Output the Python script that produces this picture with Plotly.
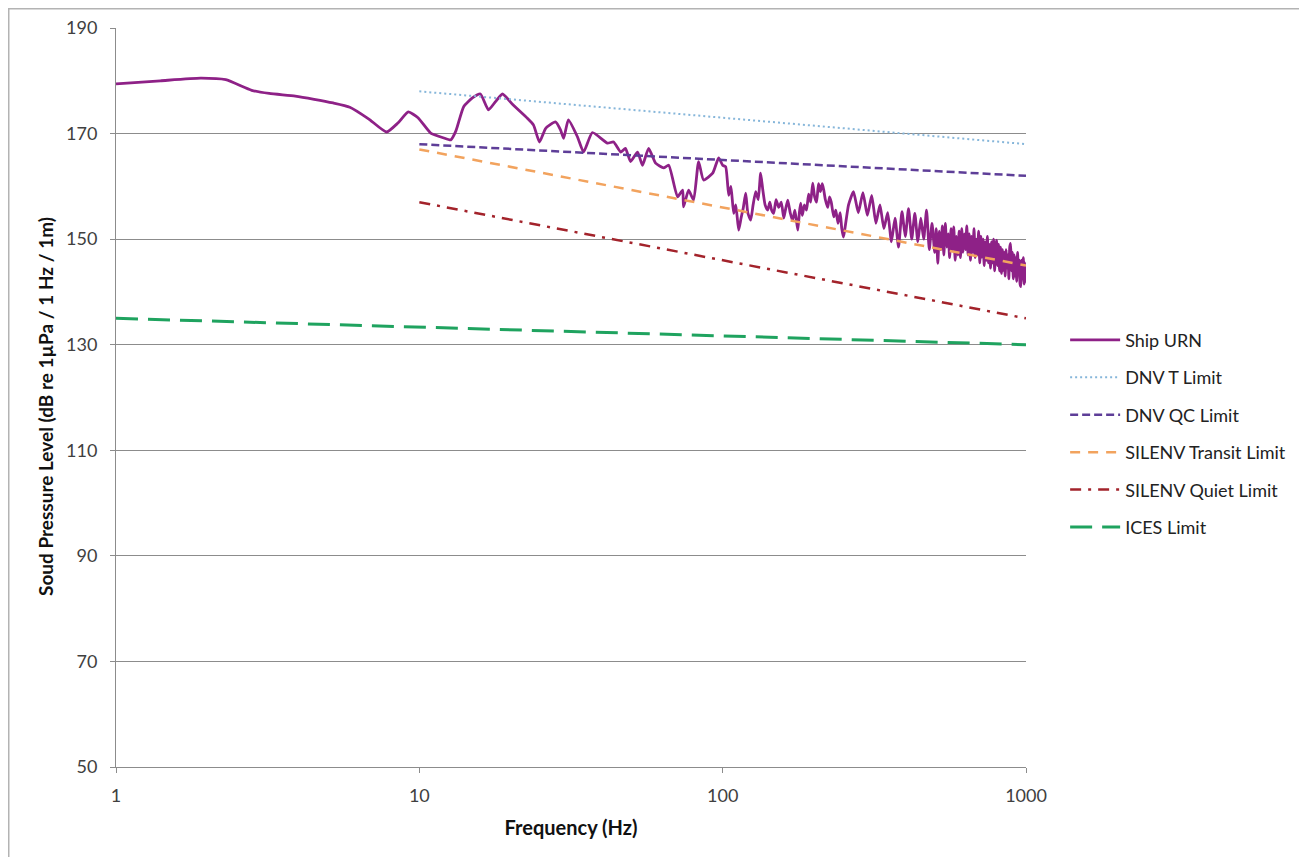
import plotly.graph_objects as go

# ---------------- data ----------------
ship_freq = [1, 1.4, 1.9, 2.3, 2.8, 3.2, 3.9, 4.5, 5.2, 5.9, 6.8, 7.8, 8.5, 9.2, 9.9,
             10.9, 12.0, 12.7, 13.2, 14.0, 15.0, 15.9, 16.9, 17.8, 18.8, 20.4, 22.7, 23.8, 24.9, 26.1,
             28.1, 29.2, 29.9, 31.0, 33.2, 34.8, 37.2, 41.7, 43.7, 46.1, 47.8, 49.7, 52.4, 54.4, 57.0,
             60.1, 63.9, 66.4, 71.0, 73.8, 74.3, 77.2, 80.2, 83.3, 86.5, 92.7, 97.0,
             100, 102.3, 104.7, 106.5, 108.7, 110.5, 112.9, 115, 117, 119.1, 121, 123.7, 126, 128.5, 131,
             133.4, 135.5, 138, 140.8, 143, 145, 147.3, 150, 153, 156, 159, 161, 163.9, 167, 170,
             173, 176.9, 179, 180.8, 183, 186, 189, 192, 195, 198.1, 201, 204, 207, 210, 213,
             215.4, 218, 222, 225, 228, 232.4, 236, 240, 244, 247,
             250, 260, 270, 280, 290, 300, 310, 320, 330, 340, 350, 360, 370, 380, 390,
             400, 410, 420, 430, 440, 450, 460, 470, 480, 490, 500,
             506, 512, 518, 524, 530, 536, 542, 548, 554, 560, 566, 572, 578, 584, 590,
             596, 602, 608, 614, 620, 626, 632, 638, 644, 650, 656, 662, 668, 674, 680,
             686, 692, 698, 704, 710, 716, 722, 728, 734, 740, 746, 752, 758, 764, 770,
             776, 782, 788, 794, 800, 806, 812, 818, 824, 830, 836, 842, 848, 854, 860,
             866, 872, 878, 884, 890, 896, 902, 908, 914, 920, 926, 932, 938, 944, 950,
             956, 962, 968, 974, 980, 986, 992, 998, 1000]
ship_spl = [179.4, 180.0, 180.5, 180.2, 178.2, 177.6, 177.1, 176.5, 175.8, 175.0, 172.8, 170.3, 172.0, 174.1, 173.0,
            170.1, 169.2, 168.8, 170.5, 175.1, 176.8, 177.5, 174.5, 176.0, 177.5, 175.4, 172.9, 171.6, 168.4, 171.0,
            172.2, 170.7, 169.1, 172.6, 169.4, 166.5, 170.2, 168.2, 168.4, 166.5, 167.2, 164.7, 166.5, 164.0, 167.2,
            164.4, 163.5, 164.0, 158.0, 159.3, 156.1, 159.3, 157.4, 164.7, 161.2, 162.5, 165.4,
            164.0, 163.7, 158.3, 160.0, 154.9, 156.5, 151.7, 154.0, 156.0, 158.7, 155.0, 153.6, 156.5, 159.0, 157.5,
            162.5, 159.5, 156.5, 155.5, 157.0, 155.5, 154.9, 157.5, 156.0, 157.0, 154.0, 155.5, 157.4, 155.0, 153.5,
            155.5, 151.7, 155.0, 156.8, 154.5, 156.5, 155.5, 158.5, 157.0, 160.6, 158.0, 157.0, 160.5, 159.0, 160.5,
            159.3, 157.5, 156.0, 158.0, 157.0, 154.2, 155.5, 153.0, 155.0, 152.0,
            150.4, 156.5, 159.0, 155.0, 158.8, 154.5, 158.3, 153.0, 156.5, 152.0, 155.0, 149.5, 154.0, 148.5, 155.2,
            150.5, 155.8, 150.0, 154.9, 149.5, 154.0, 150.0, 155.5, 148.0, 153.0, 147.5,
            152.0, 145.4, 151.5, 148.0, 152.5, 147.0, 153.0, 148.5, 151.0, 146.5, 152.0, 148.0, 152.3, 146.0, 150.5,
            147.0, 151.5, 146.5, 152.0, 147.5, 151.0, 148.0, 152.5, 147.0, 151.0, 146.0, 150.5, 147.5, 152.0, 146.5,
            150.0, 147.0, 151.5, 145.5, 150.5, 146.6, 150.0, 145.0, 149.5, 146.0, 150.5, 145.5, 149.0, 144.5, 149.5,
            145.5, 150.0, 144.0, 148.5, 149.8, 145.0, 149.0, 144.0, 148.5, 143.5, 148.0, 144.1, 147.5, 143.0, 148.0,
            144.5, 147.0, 142.5, 148.5, 149.2, 144.0, 147.5, 142.5, 147.0, 143.0, 146.5, 142.0, 147.5, 143.5, 146.0,
            141.5, 141.0, 146.0, 142.5, 146.5, 141.5, 145.5, 142.0, 144.0]

limit_freq = [10, 1000]
dnv_t = [178, 168]
dnv_qc = [168, 162]
silenv_transit = [167, 145]
silenv_quiet = [157, 135]
ices_freq = [1, 1000]
ices = [135, 130]

y_ticks = [50, 70, 90, 110, 130, 150, 170, 190]
x_ticks = [1, 10, 100, 1000]

# ---------------- figure ----------------
fig = go.Figure()
fig.add_trace(go.Scatter(x=ship_freq, y=ship_spl, mode="lines", name="Ship URN",
                         legendgroup="a",
                         line=dict(color="#8E2187", width=2.8, shape="spline", smoothing=0.5)))
fig.add_trace(go.Scatter(x=limit_freq, y=dnv_t, mode="lines", name="DNV T Limit",
                         legendgroup="b",
                         line=dict(color="#86B6DA", width=2, dash="2px,3px")))
fig.add_trace(go.Scatter(x=limit_freq, y=dnv_qc, mode="lines", name="DNV QC Limit",
                         legendgroup="c",
                         line=dict(color="#5E3E98", width=2.5, dash="8px,4px")))
fig.add_trace(go.Scatter(x=limit_freq, y=silenv_transit, mode="lines", name="SILENV Transit Limit",
                         legendgroup="d",
                         line=dict(color="#F2A35E", width=2.5, dash="10px,8px")))
fig.add_trace(go.Scatter(x=limit_freq, y=silenv_quiet, mode="lines", name="SILENV Quiet Limit",
                         legendgroup="e",
                         line=dict(color="#A3232B", width=2.5, dash="11px,7px,3px,7px")))
fig.add_trace(go.Scatter(x=ices_freq, y=ices, mode="lines", name="ICES Limit",
                         legendgroup="f",
                         line=dict(color="#1FA35F", width=3, dash="22px,10px")))

PL, PT, PW, PH = 108, 20, 910, 739   # plot area in figure pixels

fig.update_layout(
    width=1307, height=857,
    margin=dict(l=PL, r=1307 - PL - PW, t=PT, b=857 - PT - PH, autoexpand=False),
    paper_bgcolor="white", plot_bgcolor="white",
    font=dict(family="Lato", size=18, color="#222"),
    showlegend=True,
    legend=dict(x=1.043, y=0.6025, xanchor="left", yanchor="top",
                font=dict(family="Lato", size=18, color="#222"),
                tracegroupgap=11, itemwidth=50, bgcolor="rgba(0,0,0,0)"),
    xaxis=dict(type="log", range=[0, 3], tickvals=x_ticks, ticktext=[str(v) for v in x_ticks],
               showgrid=False, showline=True, linecolor="#8c8c8c", linewidth=1,
               ticks="outside", ticklen=5, tickcolor="#8c8c8c", ticklabelstandoff=7,
               tickfont=dict(family="Lato", size=18, color="#404040"),
               title=dict(text="<b>Frequency (Hz)</b>", font=dict(family="Lato", size=20, color="#111"),
                          standoff=16),
               automargin=False, zeroline=False),
    yaxis=dict(range=[50, 190], tickvals=y_ticks,
               showgrid=True, gridcolor="#8c8c8c", gridwidth=1,
               showline=True, linecolor="#8c8c8c", linewidth=1,
               ticks="outside", ticklen=5, tickcolor="#8c8c8c", ticklabelstandoff=9,
               tickfont=dict(family="Lato", size=18, color="#404040"),
               automargin=False, zeroline=False),
)

# y-axis title placed as an annotation for exact positioning
fig.add_annotation(text="<b>Soud Pressure Level (dB re 1µPa / 1 Hz / 1m)</b>",
                   xref="paper", yref="paper", x=(37 - PL) / PW, y=1 - (399 - PT) / PH,
                   xanchor="center", yanchor="middle", textangle=-90, showarrow=False,
                   font=dict(family="Lato", size=19, color="#111"))

# outer chart frame (extends past right and bottom edges)
fig.add_shape(type="rect", xref="paper", yref="paper",
              x0=(0.5 - PL) / PW, x1=1.5, y0=-0.5, y1=1 + (PT - 0.5) / PH,
              line=dict(color="#b3b3b3", width=2), fillcolor="rgba(0,0,0,0)", layer="below")

fig.write_html("out.html")
